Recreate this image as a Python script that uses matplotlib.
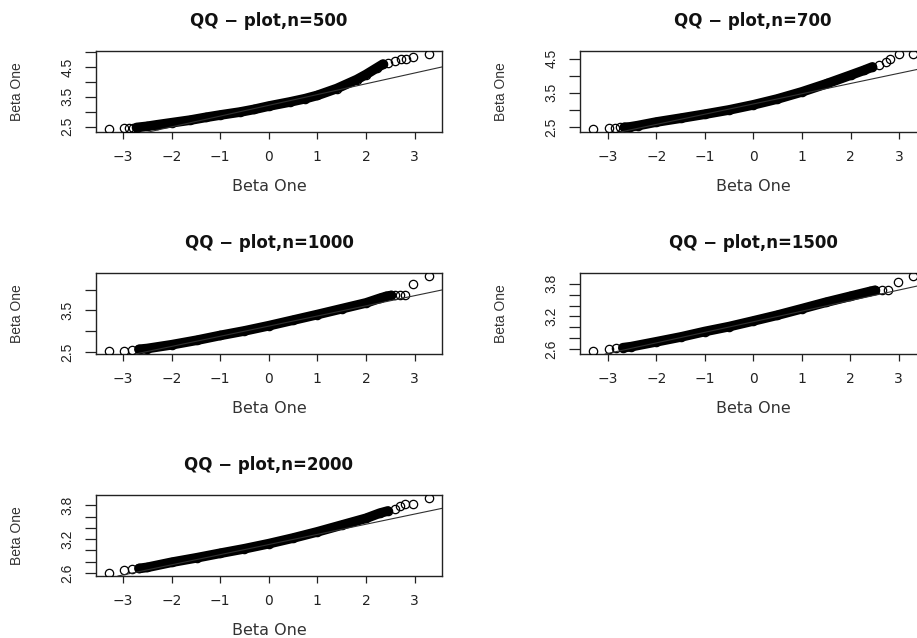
import matplotlib
matplotlib.use("Agg")
import matplotlib.pyplot as plt

# ---------------- data ----------------
titles = ["QQ \u2212 plot,n=500", "QQ \u2212 plot,n=700", "QQ \u2212 plot,n=1000",
          "QQ \u2212 plot,n=1500", "QQ \u2212 plot,n=2000"]

# theoretical quantiles / sample quantiles; band_* = index span of the dense part
theo_500 = [-3.29, -2.98, -2.88, -2.80,
            -2.72, -2.50, -2.30, -2.00, -1.61, -1.30, -1.00, -0.59, -0.30, 0.00, 0.44, 0.75,
            1.00, 1.40, 1.81, 2.00, 2.22, 2.35,
            2.45, 2.59, 2.73, 2.82, 2.97, 3.30]
samp_500 = [2.42, 2.44, 2.45, 2.46,
            2.47, 2.51, 2.56, 2.63, 2.72, 2.81, 2.89, 2.99, 3.08, 3.19, 3.33, 3.44,
            3.55, 3.78, 4.08, 4.25, 4.47, 4.60,
            4.64, 4.69, 4.76, 4.78, 4.83, 4.94]
band_500 = (4, 22)

theo_700 = [-3.31, -2.97, -2.86, -2.76,
            -2.66, -2.55, -2.38, -2.00, -1.49, -1.00, -0.50, 0.00, 0.49, 1.00, 1.52, 2.00,
            2.27, 2.45,
            2.58, 2.72, 2.82, 2.99, 3.29]
samp_700 = [2.44, 2.48, 2.48, 2.485,
            2.49, 2.50, 2.54, 2.645, 2.76, 2.875, 3.00, 3.15, 3.32, 3.53, 3.775, 4.02,
            4.16, 4.26,
            4.33, 4.42, 4.48, 4.63, 4.64]
band_700 = (4, 18)

theo_1000 = [-3.29, -2.98, -2.81,
             -2.67, -2.50, -2.00, -1.48, -1.00, -0.50, 0.00, 0.50, 1.00, 1.50, 2.00, 2.28,
             2.42, 2.52,
             2.60, 2.70, 2.80, 2.97, 3.30]
samp_1000 = [2.52, 2.53, 2.55,
             2.56, 2.58, 2.67, 2.78, 2.895, 3.005, 3.13, 3.265, 3.40, 3.54, 3.68, 3.79,
             3.84, 3.86,
             3.865, 3.865, 3.865, 4.14, 4.33]
band_1000 = (3, 17)

theo_1500 = [-3.31, -2.97, -2.83,
             -2.69, -2.52, -2.00, -1.49, -1.00, -0.50, 0.00, 0.49, 1.00, 1.50, 2.00, 2.41,
             2.51,
             2.65, 2.79, 2.99, 3.30]
samp_1500 = [2.56, 2.59, 2.61,
             2.62, 2.64, 2.73, 2.82, 2.92, 3.01, 3.115, 3.22, 3.34, 3.46, 3.57, 3.66,
             3.68,
             3.69, 3.69, 3.83, 3.945]
band_1500 = (3, 16)

theo_2000 = [-3.29, -2.98, -2.81,
             -2.67, -2.50, -2.00, -1.48, -1.00, -0.50, 0.00, 0.50, 1.00, 1.50, 2.00, 2.28,
             2.45,
             2.59, 2.69, 2.80, 2.97, 3.30]
samp_2000 = [2.60, 2.66, 2.67,
             2.68, 2.70, 2.79, 2.87, 2.95, 3.03, 3.12, 3.22, 3.33, 3.45, 3.57, 3.66,
             3.70,
             3.74, 3.79, 3.82, 3.82, 3.93]
band_2000 = (3, 16)

# reference (qq) lines: intercept, slope
line_intercepts = [3.215, 3.175, 3.12, 3.10, 3.105]
line_slopes = [0.362, 0.30, 0.245, 0.195, 0.18]

xticks = [-3, -2, -1, 0, 1, 2, 3]
xtick_labels = ["\u22123", "\u22122", "\u22121", "0", "1", "2", "3"]

yticks_500 = [2.5, 3.0, 3.5, 4.0, 4.5, 5.0]
ylabels_500 = ["2.5", "", "3.5", "", "4.5", ""]
yticks_700 = [2.5, 3.0, 3.5, 4.0, 4.5]
ylabels_700 = ["2.5", "", "3.5", "", "4.5"]
yticks_1000 = [2.5, 3.0, 3.5, 4.0]
ylabels_1000 = ["2.5", "", "3.5", ""]
yticks_1500 = [2.6, 2.8, 3.0, 3.2, 3.4, 3.6, 3.8]
ylabels_1500 = ["2.6", "", "", "3.2", "", "", "3.8"]
yticks_2000 = [2.6, 2.8, 3.0, 3.2, 3.4, 3.6, 3.8]
ylabels_2000 = ["2.6", "", "", "3.2", "", "", "3.8"]

axis_label = "Beta One"

theos = [theo_500, theo_700, theo_1000, theo_1500, theo_2000]
samps = [samp_500, samp_700, samp_1000, samp_1500, samp_2000]
bands = [band_500, band_700, band_1000, band_1500, band_2000]
yticks_all = [yticks_500, yticks_700, yticks_1000, yticks_1500, yticks_2000]
ylabels_all = [ylabels_500, ylabels_700, ylabels_1000, ylabels_1500, ylabels_2000]

# ---------------- layout ----------------
W, H = 917, 638
fig = plt.figure(figsize=(W / 100, H / 100), dpi=100)
fig.patch.set_facecolor("white")

ax_w, ax_h = 346, 81
origins = [(96, 51), (580, 51), (96, 273), (580, 273), (96, 495)]  # left, top in px

hfont = "DejaVu Sans"
vfont = ["Liberation Sans", "DejaVu Sans"]

for k in range(5):
    l, t = origins[k]
    ax = fig.add_axes([l / W, 1 - (t + ax_h) / H, ax_w / W, ax_h / H])
    th, sa = theos[k], samps[k]
    i0, i1 = bands[k]
    ax.plot(th[i0:i1], sa[i0:i1], color="black", lw=7.0,
            solid_capstyle="round", solid_joinstyle="round", zorder=2)
    ax.plot(th, sa, ls="none", marker="o", ms=6.0, mfc="none", mec="black",
            mew=0.9, zorder=3)
    ax.axline((0, line_intercepts[k]), slope=line_slopes[k], color="#303030",
              lw=0.8, zorder=4)
    ax.margins(x=0.04, y=0.04)

    ax.set_xticks(xticks, xtick_labels, fontsize=10, fontfamily=hfont, color="#222222")
    ax.set_yticks(yticks_all[k], ylabels_all[k], fontsize=10, fontfamily=vfont,
                  rotation=90, va="center", color="#222222")
    ax.tick_params(axis="x", length=5, width=0.9, pad=8, color="#222222")
    ax.tick_params(axis="y", length=7.7, width=0.9, pad=8, color="#222222")
    for s in ax.spines.values():
        s.set_linewidth(1.0)
        s.set_color("#222222")

    ax.set_title(titles[k], fontsize=12, fontweight="bold", fontfamily=hfont,
                 pad=18, color="#111111")
    ax.set_xlabel(axis_label, fontsize=11.5, fontfamily=hfont, color="#333333")
    ax.xaxis.label.set_va("center")
    ax.xaxis.set_label_coords(0.5, -54.4 / ax_h)
    ax.set_ylabel(axis_label, fontsize=10, fontfamily=vfont, color="#333333")
    ax.yaxis.label.set_va("center")
    ax.yaxis.set_label_coords((17 - 96) / ax_w, 0.5)

fig.savefig("out.png", dpi=100, facecolor="white")
